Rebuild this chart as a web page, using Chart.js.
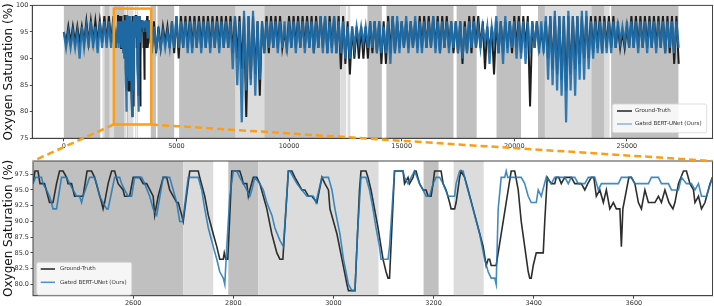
<!DOCTYPE html>
<html>
<head>
<meta charset="utf-8">
<script src="https://cdn.jsdelivr.net/npm/chart.js@4.4.0/dist/chart.umd.min.js"></script>
<style>
    html, body { margin: 0; padding: 0; background: #fff; }
    #wrap { position: relative; width: 714px; height: 306px; }
    #wrap canvas { position: absolute; left: 0; }
    #overviewChart { top: 0; }
    #zoomChart { top: 155px; }
    #links { top: 0; pointer-events: none; }
</style>
</head>
<body>
<div id="wrap">
    <canvas id="overviewChart" width="714" height="155"></canvas>
    <canvas id="zoomChart" width="714" height="151"></canvas>
    <canvas id="links" width="714" height="306"></canvas>
</div>
<script>
// whole night: one high and one low reading per 200 samples
const overviewStep = 200;
const gtHigh = [95,96,96,96,96,97,97,97,97,98, 98,98,98,98,98,98,98,97,98,97,
    97,96,96,96,97,98,98,98,98,98, 98,98,98,98,98,98,98,98,98,98,
    98,98,98,97,97,98,98,98,98,95, 98,98,98,98,98,98,98,98,98,98,
    98,98,98,97,96,96,96,96,97,97, 97,97,98,98,97,97,97,97,97,98,
    98,98,98,98,98,98,97,97,97,97, 98,98,98,97,96,96,97,97,97,97,
    98,98,98,98,97,97,95,97,98,98, 98,98,98,98,98,98,98,98,98,98,
    98,98,98,96,95,96,98,98,98,98, 98,98,98,98,98,98,98];
const gtLow = [93,93,93,93,93,93,93,93,93,93, 93,92,92,84,84,79,81,86,92,91,
    91,92,93,92,91,90,92,92,92,92, 92,92,92,92,92,92,92,91,90,88,
    79,86,87,83,91,91,92,92,92,92, 92,92,92,92,92,91,92,92,91,92,
    91,88,89,87,90,90,90,90,91,91, 89,89,91,91,92,92,92,92,92,92,
    92,92,92,91,92,92,91,91,89,91, 91,92,92,88,91,87,91,91,92,91,
    92,91,92,81,92,92,92,90,88,87, 86,84,87,88,89,90,90,91,92,91,
    92,92,92,92,92,92,92,92,92,92, 92,92,92,91,91,89,89];
const predHigh = [95,95,95,95,96,96,97,96,97,97, 97,97,97,97,98,98,98,97,97,97,
    96,95,95,95,97,98,97,97,97,97, 97,97,97,97,97,97,97,97,98,97,
    99,98,99,97,97,97,97,97,97,97, 97,97,97,97,97,97,97,98,98,97,
    98,97,97,96,96,96,96,96,97,97, 97,96,97,98,98,97,98,97,98,97,
    97,97,98,97,97,97,97,97,97,96, 97,97,96,96,96,96,98,97,98,97,
    97,97,97,97,97,97,97,98,98,99, 98,98,99,98,98,99,99,97,97,97,
    97,97,97,97,96,97,97,97,97,97, 97,97,97,97,97,97,97];
const predLow = [92,92,92,90,92,92,92,91,92,92, 92,92,92,80,86,79,80,93,94,91,
    92,92,92,92,92,92,92,91,91,92, 91,92,91,92,91,92,92,88,85,78,
    84,85,83,86,91,92,92,91,92,91, 92,91,92,91,92,91,92,91,91,91,
    91,91,90,90,92,93,93,92,92,91, 91,91,89,91,91,92,91,92,91,91,
    92,92,91,91,92,91,92,91,90,91, 92,92,92,93,89,93,91,89,91,92,
    90,90,89,91,92,91,91,86,85,84, 83,78,84,83,86,86,88,90,91,91,
    91,91,92,93,93,92,92,91,92,91, 92,91,92,91,92,91,92];

// zoomed window, breakpoints
const zoomGtX = [2400,2404,2410,2414,2423,2433,2440,2447,2453,2460,2467,2470,2477,2483,2493,2500,
    2508,2517,2523,2530,2537,2540,2543,2550,2557,2563,2570,2580,2583,2593,2600,2613,2620,2627,2640,2643,
    2650,2660,2667,2673,2687,2690,2697,2700,2713,2730,2733,2743,2750,2760,2767,2770,2773,2780,2782,2785,
    2789,2797,2813,2817,2820,2827,2830,2833,2840,2847,2853,2860,2867,2877,2887,2893,2899,2910,2917,2923,
    2930,2937,2943,2950,2957,2967,2977,2983,2990,2993,3007,3017,3027,3030,3043,3052,3055,3065,3069,3075,
    3082,3089,3095,3099,3105,3109,3112,3122,3139,3142,3149,3152,3159,3162,3165,3172,3179,3185,3189,3195,
    3199,3202,3215,3219,3225,3232,3235,3242,3245,3252,3255,3262,3269,3279,3289,3299,3305,3309,3312,3315,
    3325,3355,3362,3369,3375,3382,3389,3392,3395,3399,3402,3405,3419,3422,3427,3435,3442,3445,3450,3455,
    3462,3475,3482,3495,3502,3508,3515,3520,3525,3532,3539,3545,3552,3559,3565,3572,3575,3578,3590,3595,
    3602,3609,3615,3622,3629,3642,3649,3655,3662,3670,3678,3682,3689,3699,3705,3712,3719,3722,3729,3735,
    3742,3752,3757];
const zoomGtY = [96,98,98,96,96,93,93,96,98,98,97,96,96,94,94,94,
    98,98,97,95,93,92,93,96,98,98,96,95,94,94,97,97,96,96,94,91,
    94,97,97,95,93,93,91,90,98,98,97,94,91,88,86,85,84,84,85,84,
    84,98,98,97,96,96,94,95,97,97,96,94,92,88,85,84,84,98,98,97,
    96,95,95,94,94,93,97,96,95,92,88,84,80,79,79,95,98,98,97,95,
    92,89,86,84,82,81,81,98,98,96,97,96,97,98,98,96,95,95,94,94,
    96,98,98,96,95,93,92,92,93,97,98,97,95,92,89,86,83,84,84,83,
    83,98,98,95,90,86,82,81,81,83,84,85,85,90,97,96,96,97,97,96,
    97,97,96,96,95,96,97,97,94,95,93,95,92,93,92,92,86,92,97,97,
    96,93,92,95,93,93,94,93,95,93,92,93,96,98,98,96,95,93,94,92,
    93,96,97];
const zoomPredX = [2400,2405,2417,2420,2427,2433,2437,2440,2447,2457,2467,2473,2480,2487,2493,2497,
    2500,2513,2523,2527,2533,2540,2547,2550,2563,2573,2577,2583,2590,2597,2603,2617,2623,2633,2640,2647,
    2660,2673,2680,2687,2691,2693,2699,2710,2730,2737,2743,2750,2760,2767,2773,2780,2783,2787,2793,2800,
    2807,2813,2820,2827,2833,2837,2843,2853,2860,2867,2877,2883,2893,2900,2910,2913,2920,2927,2937,2947,
    2960,2965,2977,2990,2997,3003,3013,3020,3030,3037,3043,3048,3055,3065,3072,3079,3085,3092,3095,3109,
    3112,3122,3139,3142,3149,3155,3162,3172,3179,3185,3192,3199,3205,3212,3219,3229,3242,3245,3252,3259,
    3265,3272,3282,3292,3302,3309,3315,3322,3325,3329,3335,3342,3345,3348,3375,3382,3389,3395,3405,3409,
    3415,3425,3435,3442,3462,3469,3475,3482,3489,3502,3509,3522,3529,3535,3549,3569,3575,3595,3602,3629,
    3635,3649,3655,3669,3675,3689,3695,3705,3715,3722,3729,3735,3745,3749,3757];
const zoomPredY = [96,97,97,96,95,94,93,92,92,97,97,96,95,94,94,93,
    94,97,97,96,94,93,92,92,97,97,96,95,94,94,97,97,96,94,92,91,
    97,97,95,93,91,90,90,97,97,95,92,89,86,84,82,81,80,86,94,98,
    98,97,96,95,94,95,97,96,95,93,91,89,87,86,98,98,97,96,95,94,
    94,93,97,97,95,92,88,84,80,79,79,88,97,97,95,92,89,86,84,84,
    86,98,98,97,96,97,98,96,95,94,94,96,97,97,96,94,94,96,98,98,
    96,94,91,88,84,82,81,81,80,92,97,97,98,97,97,96,94,93,93,95,
    94,97,96,97,97,96,97,97,96,96,97,97,95,96,96,96,97,97,96,96,
    97,97,96,96,95,95,97,96,96,95,96,94,94,95,97];

// background stages: start, end, shade (d = dark, l = light)
const bandStart = [0,1710,1800,2040,2230,2700,2790,2850,3180,3240,3860,4160,5120,7630,8900,
    12270,12600,13480,14320,17440,19210,21050,21360,23420,24010,24300];
const bandEnd = [1620,1800,2040,2230,2700,2760,2850,3090,3210,3300,4090,4900,7630,8900,12270,
    12540,12720,14120,17300,18330,20300,21360,23420,24010,24230,27290];
const bandShade = ['d','l','d','l','d','l','d','l','d','l','d','d','d','l','d',
    'l','l','d','d','d','d','d','l','d','l','d'];

// tick values
const overviewXTicks = [0, 5000, 10000, 15000, 20000, 25000];
const zoomXTicks = [2600, 2800, 3000, 3200, 3400, 3600];

// window marked on the overview
const insetX = [2220, 3880];
const insetY = [77.6, 99.4];

const fontFamily = "'DejaVu Sans', sans-serif";

function buildOverview(high, low, zx, zy) {
    let pts = [];
    high.forEach(function (h, i) {
        let x0 = i * overviewStep;
        if (x0 >= zx[0] && x0 < zx[zx.length - 1]) return;
        pts.push({x: x0, y: h});
        pts.push({x: x0 + overviewStep / 2, y: low[i]});
    });
    zx.forEach(function (x, i) {
        pts.push({x: x, y: zy[i]});
    });
    pts.sort(function (a, b) { return a.x - b.x; });
    return pts;
}

function toPoints(xs, ys) {
    return xs.map(function (x, i) { return {x: x, y: ys[i]}; });
}

const bandPlugin = {
    id: 'bands',
    beforeDatasetsDraw(chart) {
        const ctx = chart.ctx, a = chart.chartArea, xs = chart.scales.x;
        ctx.save();
        ctx.beginPath();
        ctx.rect(a.left, a.top, a.right - a.left, a.bottom - a.top);
        ctx.clip();
        bandStart.forEach(function (s, i) {
            let x0 = Math.max(xs.getPixelForValue(s), a.left);
            let x1 = Math.min(xs.getPixelForValue(bandEnd[i]), a.right);
            if (x1 <= x0) return;
            ctx.fillStyle = bandShade[i] == 'd' ? '#c0c0c0' : '#dcdcdc';
            ctx.fillRect(x0, a.top, x1 - x0, a.bottom - a.top);
        });
        ctx.restore();
    }
};

const framePlugin = {
    id: 'frame',
    afterDraw(chart, args, opts) {
        const ctx = chart.ctx, a = chart.chartArea;
        ctx.save();
        ctx.strokeStyle = '#444';
        ctx.lineWidth = 1;
        ctx.strokeRect(a.left, a.top, a.right - a.left, a.bottom - a.top);

        // legend box inside the axes
        let lg = opts.legend;
        let bx = lg.corner == 'br' ? a.right - lg.margin[0] - lg.w : a.left + lg.margin[0];
        let by = a.bottom - lg.margin[1] - lg.h;
        ctx.fillStyle = 'rgba(255,255,255,0.85)';
        ctx.strokeStyle = '#d4d4d4';
        ctx.lineWidth = 0.8;
        ctx.beginPath();
        ctx.roundRect(bx, by, lg.w, lg.h, 2);
        ctx.fill();
        ctx.stroke();
        ctx.font = '5.5px ' + fontFamily;
        ctx.textBaseline = 'middle';
        chart.data.datasets.forEach(function (ds, i) {
            let ry = by + lg.rows[i];
            ctx.strokeStyle = lg.colors[i];
            ctx.lineWidth = 1.5;
            ctx.beginPath();
            ctx.moveTo(bx + lg.line[0], ry);
            ctx.lineTo(bx + lg.line[1], ry);
            ctx.stroke();
            ctx.fillStyle = '#333';
            ctx.fillText(ds.label, bx + lg.text, ry);
        });
        ctx.restore();
    }
};

function xAxis(min, max, tickValues, height) {
    return {
        type: 'linear', min: min, max: max,
        ticks: {
            maxRotation: 0, padding: 1, autoSkip: false,
            color: '#333', font: {family: fontFamily, size: 6.5},
            callback: function (v) { return String(v); }
        },
        grid: {display: true, drawOnChartArea: false, drawTicks: true, tickLength: 3, color: '#444'},
        border: {display: true, color: '#444'},
        afterBuildTicks: function (s) {
            s.ticks = tickValues.map(function (v) { return {value: v}; });
        },
        afterFit: function (s) { s.height = height; }
    };
}

function yAxis(min, max, step, digits, width) {
    return {
        min: min, max: max,
        ticks: {
            stepSize: step, includeBounds: false, padding: 1.5, color: '#333',
            font: {family: fontFamily, size: 6.5},
            callback: function (v) { return v.toFixed(digits); }
        },
        grid: {display: true, drawOnChartArea: false, drawTicks: true, tickLength: 2.5, color: '#444'},
        border: {display: true, color: '#444'},
        title: {
            display: true, text: 'Oxygen Saturation (%)', color: '#111',
            font: {family: fontFamily, size: 12}, padding: {top: 2, bottom: 0}
        },
        afterFit: function (s) { s.width = width; }
    };
}

function baseOptions(padding, scales, legend) {
    return {
        responsive: false,
        animation: false,
        events: [],
        layout: {padding: padding},
        scales: scales,
        elements: {point: {radius: 0}, line: {tension: 0}},
        plugins: {legend: {display: false}, tooltip: {enabled: false}, frame: {legend: legend}}
    };
}

const overview = new Chart('overviewChart', {
    type: 'line',
    data: {
        datasets: [{
            label: 'Ground-Truth',
            data: buildOverview(gtHigh, gtLow, zoomGtX, zoomGtY),
            borderColor: '#1e1e1e', borderWidth: 2, order: 2
        }, {
            label: 'Gated BERT-UNet (Ours)',
            data: buildOverview(predHigh, predLow, zoomPredX, zoomPredY),
            borderColor: 'rgba(31,112,174,0.92)', borderWidth: 2.2, order: 1
        }]
    },
    options: baseOptions({top: 3.3, right: 1.5, left: 0, bottom: 0}, {
        x: xAxis(-1400, 28800, overviewXTicks, 16.7),
        y: yAxis(75, 100, 5, 0, 32.3)
    }, {
        corner: 'br', margin: [5.8, 5.6], w: 94.4, h: 28.7,
        rows: [7, 20], line: [4.7, 19.7], text: 22.7,
        colors: ['#222', '#8fb0e0']
    }),
    plugins: [bandPlugin, framePlugin]
});

const zoom = new Chart('zoomChart', {
    type: 'line',
    data: {
        datasets: [{
            label: 'Ground-Truth',
            data: toPoints(zoomGtX, zoomGtY),
            borderColor: '#2e2e2e', borderWidth: 1.6, order: 2
        }, {
            label: 'Gated BERT-UNet (Ours)',
            data: toPoints(zoomPredX, zoomPredY),
            borderColor: 'rgba(31,119,180,0.85)', borderWidth: 1.6, order: 1
        }]
    },
    options: baseOptions({top: 6, right: 1.5, left: 0, bottom: 0}, {
        x: xAxis(2400, 3757, zoomXTicks, 10.3),
        y: yAxis(78.2, 99.6, 2.5, 1, 33)
    }, {
        corner: 'bl', margin: [3.7, 0.7], w: 95, h: 32.7,
        rows: [6.7, 20], line: [4, 18.3], text: 23.3,
        colors: ['#222', '#4a90d9']
    }),
    plugins: [bandPlugin, framePlugin]
});

function drawLinks(top, bottom) {
    const c = document.getElementById('links').getContext('2d');
    const offset = 155;
    let left = top.scales.x.getPixelForValue(insetX[0]);
    let right = top.scales.x.getPixelForValue(insetX[1]);
    let upper = top.scales.y.getPixelForValue(insetY[1]);
    let lower = top.scales.y.getPixelForValue(insetY[0]);
    let b = bottom.chartArea;

    c.strokeStyle = '#ff9d14';
    c.lineWidth = 2.5;
    c.strokeRect(left, upper, right - left, lower - upper);

    c.setLineDash([7, 4]);
    c.beginPath();
    c.moveTo(left, lower);
    c.lineTo(b.left, b.top + offset);
    c.moveTo(right, lower);
    c.lineTo(b.right, b.top + offset);
    c.stroke();
}

drawLinks(overview, zoom);
</script>
</body>
</html>
